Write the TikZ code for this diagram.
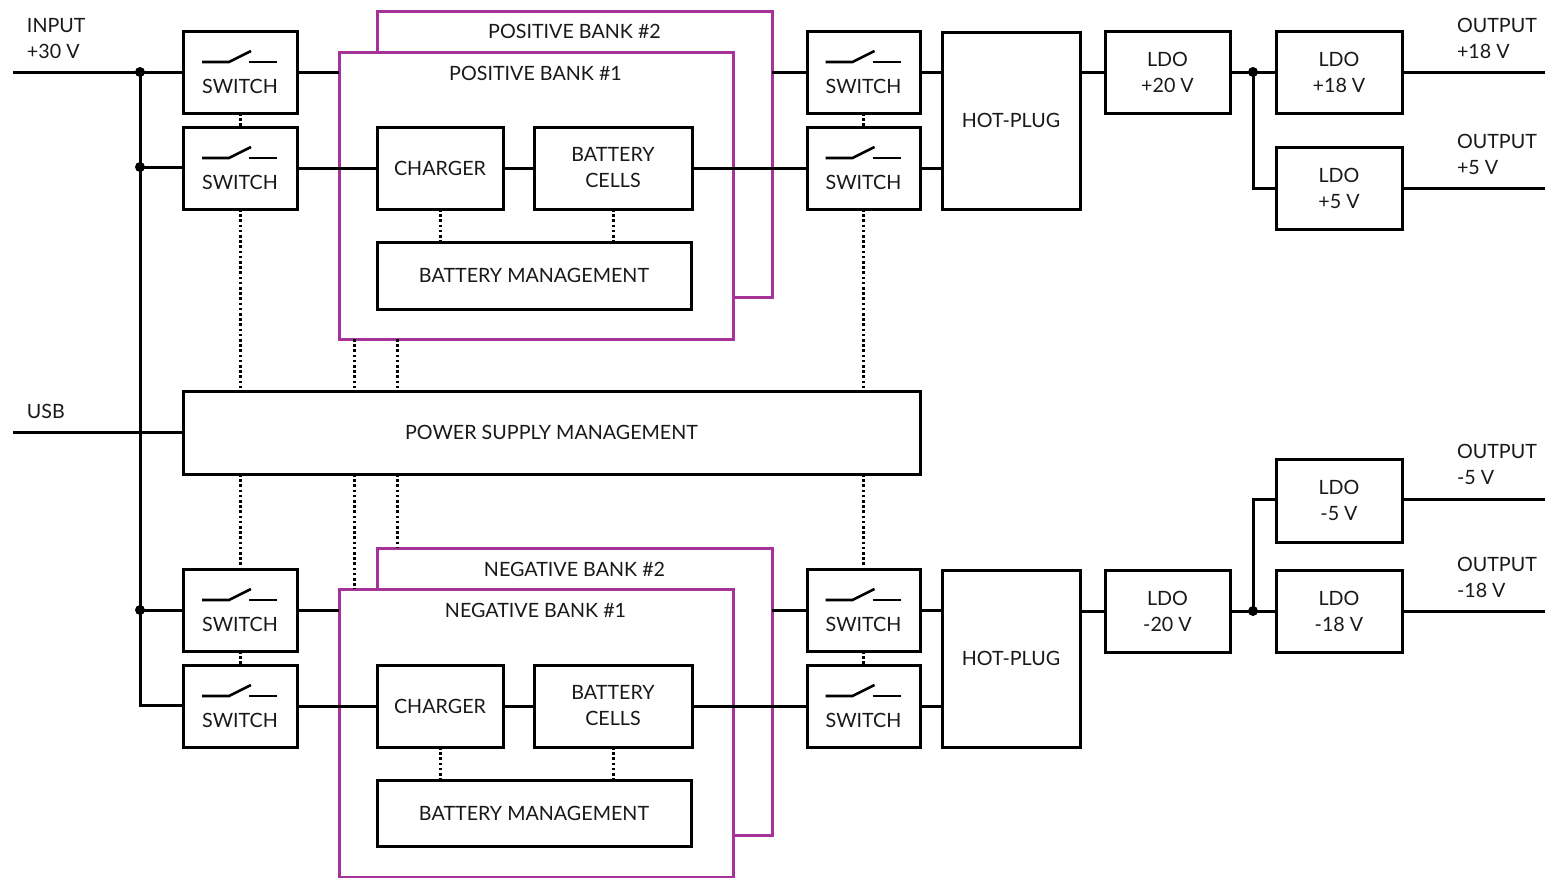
\documentclass[tikz,border=0pt]{standalone}
\usepackage{fontspec}
\setmainfont{Lato}
\usetikzlibrary{calc}
\definecolor{bankpurple}{HTML}{A5339A}
\begin{document}
\begin{tikzpicture}[
                x=1pt, y=-1pt,
                every node/.style={font=\fontsize{19.7}{26}\selectfont, text=black!90, outer sep=0, inner sep=0, align=left},
                box/.style={draw, line width=3, fill=white, align=center},
                swbox/.style={box, minimum width=114, minimum height=82},
                ldobox/.style={box, minimum width=126, minimum height=82},
                cellbox/.style={box, minimum height=82},
                mgmtbox/.style={box, minimum width=314, minimum height=66},
                hotbox/.style={box, minimum width=138, minimum height=177},
                bankbox/.style={draw=bankpurple, line width=3, fill=white, minimum width=394, minimum height=287},
                wire/.style={line width=3},
                ctrl/.style={line width=3, dash pattern=on 2.6 off 2.6},
                junction/.style={circle, fill=black, minimum size=10}
            ]
            \useasboundingbox (0, 0) rectangle (1545, 878);
            % banks
            \node[bankbox, minimum width=395, minimum height=286] (posb) at (574.5, 154) {};
            \node[bankbox] (posa) at (536, 195.5) {};
            \node[bankbox, minimum width=395] (negb) at (574.5, 691.5) {};
            \node[bankbox, minimum height=288] (nega) at (536, 733) {};
            \node (posbt) at (574.5, 31) {POSITIVE BANK \#2};
            \node (posat) at (535.5, 73) {POSITIVE BANK \#1};
            \node (negbt) at (574.5, 569) {NEGATIVE BANK \#2};
            \node (negat) at (535.5, 610) {NEGATIVE BANK \#1};
            % left switches
            \node[swbox] (swa) at (240, 72) {};
            \node[swbox] (swb) at (240, 168) {};
            \node[swbox] (swc) at (240, 610) {};
            \node[swbox] (swd) at (240, 706) {};
            % right switches
            \node[swbox, minimum width=113] (swe) at (863.5, 72) {};
            \node[swbox, minimum width=113] (swf) at (863.5, 168) {};
            \node[swbox, minimum width=113] (swg) at (863.5, 610) {};
            \node[swbox, minimum width=113] (swh) at (863.5, 706) {};
            \foreach \s in {swa, swb, swc, swd, swe, swf, swg, swh} {
                \draw[line width=2.6] ($(\s.center) + (-38, -10)$) -- ++(27, 0) -- ++(22, -11);
                \draw[line width=2.6] ($(\s.center) + (9, -10)$) -- ++(28, 0);
                \node (\s t) at ($(\s.center) + (0, 14)$) {SWITCH};
            }
            % positive bank contents
            \node[cellbox, minimum width=126] (chga) at (440, 168) {CHARGER};
            \node[cellbox, minimum width=158] (cella) at (613, 168) {BATTERY\\CELLS};
            \node[mgmtbox, minimum height=67] (mgta) at (534, 275.5) {BATTERY MANAGEMENT};
            % negative bank contents
            \node[cellbox, minimum width=126] (chgb) at (440, 706) {CHARGER};
            \node[cellbox, minimum width=158] (cellb) at (613, 706) {BATTERY\\CELLS};
            \node[mgmtbox] (mgtb) at (534, 813) {BATTERY MANAGEMENT};
            % middle
            \node[box, minimum width=737, minimum height=83] (psm) at (551.5, 432.5) {POWER SUPPLY MANAGEMENT};
            \node[hotbox] (hota) at (1011, 120.5) {HOT-PLUG};
            \node[hotbox] (hotb) at (1011, 658.5) {HOT-PLUG};
            % regulators
            \node[ldobox, minimum width=125] (ldoa) at (1167.5, 72) {LDO\\+20 V};
            \node[ldobox] (ldob) at (1339, 72) {LDO\\+18 V};
            \node[ldobox] (ldoc) at (1339, 188) {LDO\\+5 V};
            \node[ldobox, minimum height=83] (ldod) at (1339, 500.5) {LDO\\-5 V};
            \node[ldobox, minimum width=125] (ldoe) at (1167.5, 611) {LDO\\-20 V};
            \node[ldobox] (ldof) at (1339, 611) {LDO\\-18 V};
            % outer labels
            \node[anchor=west] (inlab) at (27, 39) {INPUT\\+30 V};
            \node[anchor=west] (usblab) at (27, 411) {USB};
            \node[anchor=west] (outa) at (1457, 38) {OUTPUT\\+18 V};
            \node[anchor=west] (outb) at (1457, 154) {OUTPUT\\+5 V};
            \node[anchor=west] (outc) at (1457, 464) {OUTPUT\\-5 V};
            \node[anchor=west] (outd) at (1457, 577) {OUTPUT\\-18 V};
            % free ends and junctions
            \coordinate (ina) at (13, 72);
            \coordinate (usbin) at (13, 432);
            \coordinate (busend) at (140, 705);
            \coordinate (enda) at (1545, 72);
            \coordinate (endb) at (1545, 188);
            \coordinate (endc) at (1545, 499);
            \coordinate (endd) at (1545, 611);
            \coordinate (ctla) at (354.5, 339);
            \coordinate (ctlb) at (397, 339);
            \coordinate (ctlc) at (354.5, 589);
            \coordinate (ctld) at (397, 548);
            \node[junction] (ja) at (140, 72) {};
            \node[junction] (jb) at (140, 167) {};
            \node[junction] (jc) at (140, 610) {};
            \node[junction] (jd) at (1253, 72) {};
            \node[junction] (je) at (1253, 611) {};
            % power lines
            \draw[wire] (ina) -- (swa.west);
            \draw[wire] (ja.center) -- (busend) -- (busend -| swd.west);
            \draw[wire] (jb.center) -- (jb.center -| swb.west);
            \draw[wire] (jc.center) -- (swc.west);
            \draw[wire] (usbin) -- (usbin -| psm.west);
            \draw[wire] (swa.east) -- (swa.east -| posa.west);
            \draw[wire] (swb.east) -- (chga.west);
            \draw[wire] (chga.east) -- (cella.west);
            \draw[wire] (cella.east) -- (swf.west);
            \draw[wire] (swe.west -| posb.east) -- (swe.west);
            \draw[wire] (swc.east) -- (swc.east -| nega.west);
            \draw[wire] (swd.east) -- (chgb.west);
            \draw[wire] (chgb.east) -- (cellb.west);
            \draw[wire] (cellb.east) -- (swh.west);
            \draw[wire] (swg.west -| negb.east) -- (swg.west);
            \draw[wire] (swe.east) -- (swe.east -| hota.west);
            \draw[wire] (swf.east) -- (swf.east -| hota.west);
            \draw[wire] (swg.east) -- (swg.east -| hotb.west);
            \draw[wire] (swh.east) -- (swh.east -| hotb.west);
            \draw[wire] (ldoa.west -| hota.east) -- (ldoa.west);
            \draw[wire] (ldoa.east) -- (ldob.west);
            \draw[wire] (jd.center) |- (ldoc.west);
            \draw[wire] (ldob.east) -- (enda);
            \draw[wire] (ldoc.east) -- (endb);
            \draw[wire] (ldoe.west -| hotb.east) -- (ldoe.west);
            \draw[wire] (ldoe.east) -- (ldof.west);
            \draw[wire] (je.center) |- (endc -| ldod.west);
            \draw[wire] (ldof.east) -- (endd);
            \draw[wire] (ldod.east |- endc) -- (endc);
            % control lines
            \draw[ctrl] (swa.south) -- (swb.north);
            \draw[ctrl] (swb.south) -- (swb.south |- psm.north);
            \draw[ctrl] (swc.north |- psm.south) -- (swc.north);
            \draw[ctrl] (swc.south) -- (swd.north);
            \draw[ctrl] (swe.south) -- (swf.north);
            \draw[ctrl] (swf.south) -- (swf.south |- psm.north);
            \draw[ctrl] (swg.north |- psm.south) -- (swg.north);
            \draw[ctrl] (swg.south) -- (swh.north);
            \draw[ctrl] (ctla) -- (ctla |- psm.north);
            \draw[ctrl] (ctlb) -- (ctlb |- psm.north);
            \draw[ctrl] (ctlc |- psm.south) -- (ctlc);
            \draw[ctrl] (ctld |- psm.south) -- (ctld);
            \draw[ctrl] (chga.south) -- (chga.south |- mgta.north);
            \draw[ctrl] (cella.south) -- (cella.south |- mgta.north);
            \draw[ctrl] (chgb.south) -- (chgb.south |- mgtb.north);
            \draw[ctrl] (cellb.south) -- (cellb.south |- mgtb.north);
        \end{tikzpicture}
\end{document}
